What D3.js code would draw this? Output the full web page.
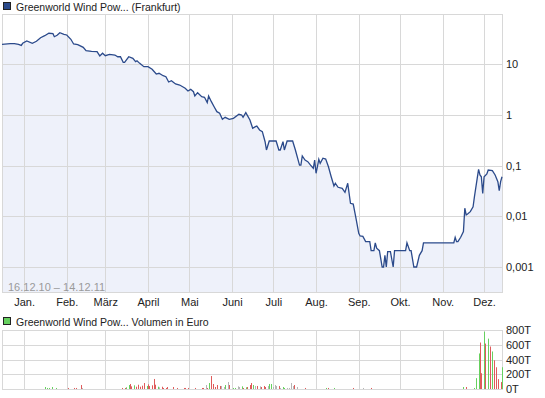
<!DOCTYPE html>
<html>
<head>
<meta charset="utf-8">
<script src="https://cdn.jsdelivr.net/npm/d3@7"></script>
<style>
  body { margin: 0; background: #fff; }
  text { font-family: "Liberation Sans", Arial, sans-serif; font-size: 11px; fill: #222; }
  text.legend { font-size: 10.5px; }
</style>
</head>
<body>
<svg id="chart"></svg>
<script>
// Kursverlauf (Euro, log)
const priceDates = [
  "2010-12-16","2010-12-22","2010-12-25","2010-12-28","2010-12-30","2010-12-31",
  "2011-01-03","2011-01-07","2011-01-10","2011-01-13","2011-01-16","2011-01-19","2011-01-22","2011-01-23","2011-01-25","2011-01-27","2011-01-30",
  "2011-02-01","2011-02-04","2011-02-06","2011-02-09","2011-02-13","2011-02-15","2011-02-19","2011-02-23","2011-02-25","2011-02-27",
  "2011-03-01","2011-03-04","2011-03-08","2011-03-10","2011-03-12","2011-03-14","2011-03-15","2011-03-18","2011-03-21","2011-03-23","2011-03-24","2011-03-26","2011-03-29",
  "2011-04-01","2011-04-04","2011-04-07","2011-04-09","2011-04-12","2011-04-14","2011-04-16","2011-04-18","2011-04-21","2011-04-24","2011-04-28","2011-04-30",
  "2011-05-02","2011-05-04","2011-05-05","2011-05-07","2011-05-10","2011-05-12","2011-05-14","2011-05-15","2011-05-17","2011-05-19","2011-05-21","2011-05-23","2011-05-25","2011-05-27","2011-05-30",
  "2011-06-02","2011-06-06","2011-06-08","2011-06-09","2011-06-11","2011-06-14","2011-06-16","2011-06-18","2011-06-19","2011-06-21","2011-06-23","2011-06-25","2011-06-26","2011-06-28",
  "2011-07-03","2011-07-05","2011-07-06","2011-07-08","2011-07-09","2011-07-11","2011-07-15","2011-07-17","2011-07-20","2011-07-21","2011-07-22","2011-07-24","2011-07-26","2011-07-28","2011-07-30","2011-07-31",
  "2011-08-01","2011-08-02","2011-08-03","2011-08-04","2011-08-06","2011-08-08","2011-08-10","2011-08-12","2011-08-14","2011-08-15","2011-08-17","2011-08-20","2011-08-22","2011-08-24","2011-08-26","2011-08-28","2011-08-30",
  "2011-09-01","2011-09-02","2011-09-04","2011-09-06","2011-09-09","2011-09-10","2011-09-12","2011-09-13","2011-09-14","2011-09-16","2011-09-18","2011-09-19","2011-09-20","2011-09-21","2011-09-22","2011-09-24","2011-09-26","2011-09-27",
  "2011-10-05","2011-10-06","2011-10-08","2011-10-09","2011-10-11","2011-10-13","2011-10-15","2011-10-17","2011-10-18",
  "2011-11-09","2011-11-10","2011-11-11","2011-11-12","2011-11-14","2011-11-16","2011-11-17","2011-11-18","2011-11-19","2011-11-21","2011-11-23","2011-11-24","2011-11-26","2011-11-27","2011-11-28","2011-11-29","2011-11-30",
  "2011-12-01","2011-12-03","2011-12-04","2011-12-07","2011-12-09","2011-12-11","2011-12-12","2011-12-13","2011-12-14"
];
const priceValues = [
  24.4,25.1,25.1,24.4,23.3,25.6,
  28.4,25.6,28.0,33.0,36.1,40.3,39.5,34.5,36.8,41.4,38.5,
  37.3,30.7,24.8,24.0,21.3,18.3,17.8,17.5,14.4,16.3,
  14.6,15.5,15.0,13.9,13.9,10.8,10.8,13.9,12.9,11.1,11.6,10.3,8.85,
  8.85,7.87,6.35,6.56,5.88,5.62,4.42,4.69,4.04,3.85,3.32,2.94,
  3.17,2.84,2.34,2.72,2.27,2.21,1.73,2.34,1.81,1.44,1.15,1.07,0.813,0.891,0.813,
  0.851,1.02,0.989,0.891,1.10,0.789,0.541,0.582,0.600,0.501,0.464,0.294,0.202,0.304,
  0.304,0.202,0.202,0.294,0.202,0.304,0.304,0.202,0.102,0.102,0.154,0.128,0.119,0.102,0.0881,0.128,
  0.0702,0.0946,0.132,0.110,0.139,0.134,0.0946,0.0601,0.0394,0.0446,0.0372,0.0356,0.0296,0.0446,0.0180,0.0174,0.00912,
  0.00461,0.00408,0.0040,0.00316,0.00316,0.0021,0.0021,0.0030,0.00234,0.0021,0.001,0.001,0.0017,0.001,0.0020,0.0020,0.001,0.0021,
  0.0021,0.0030,0.0021,0.0021,0.001,0.001,0.0017,0.0021,0.0030,
  0.0030,0.00385,0.00316,0.00316,0.00385,0.00497,0.0144,0.0106,0.0111,0.0123,0.0154,0.0243,0.056,0.0841,0.065,0.0601,0.0283,
  0.0601,0.0681,0.0815,0.0791,0.065,0.048,0.0318,0.048,0.0601
];

// Umsatz in Tausend Euro; g = Plus, r = Minus, n = unveraendert
const volDates = [
  "2011-01-16","2011-01-18","2011-01-19","2011-01-21","2011-01-24",
  "2011-02-02","2011-02-06","2011-02-08","2011-02-11","2011-02-12",
  "2011-03-13","2011-03-15","2011-03-16","2011-03-18","2011-03-19","2011-03-20","2011-03-22","2011-03-23","2011-03-25","2011-03-26","2011-03-28","2011-03-29","2011-03-31",
  "2011-04-01","2011-04-02","2011-04-04","2011-04-05","2011-04-06","2011-04-08","2011-04-09","2011-04-11","2011-04-12","2011-04-14","2011-04-15","2011-04-19","2011-04-22","2011-04-27","2011-04-28","2011-04-30",
  "2011-05-05","2011-05-10","2011-05-11","2011-05-13","2011-05-14","2011-05-15","2011-05-17","2011-05-18","2011-05-20","2011-05-21","2011-05-23","2011-05-24","2011-05-26","2011-05-27","2011-05-29","2011-05-30",
  "2011-06-02","2011-06-03","2011-06-05","2011-06-06","2011-06-08","2011-06-09","2011-06-11","2011-06-12","2011-06-14","2011-06-15","2011-06-16","2011-06-18","2011-06-19","2011-06-21","2011-06-22","2011-06-24","2011-06-25","2011-06-27","2011-06-28","2011-06-29",
  "2011-07-01","2011-07-02","2011-07-03","2011-07-05","2011-07-06","2011-07-08","2011-07-09","2011-07-11","2011-07-12","2011-07-14","2011-07-15","2011-07-16","2011-07-18","2011-07-24",
  "2011-08-08","2011-08-10","2011-08-14","2011-08-28","2011-09-04","2011-09-10",
  "2011-11-16","2011-11-18","2011-11-24","2011-11-25","2011-11-27","2011-11-28","2011-11-29",
  "2011-12-01","2011-12-02","2011-12-04","2011-12-05","2011-12-07","2011-12-08","2011-12-10","2011-12-11","2011-12-13","2011-12-14"
];
const volValues = [
  27,14,14,27,14,
  14,14,14,54,14,
  14,14,23,54,68,36,50,31,58,31,45,81,41,
  63,41,50,136,58,31,23,31,14,14,27,27,14,14,14,14,
  14,14,14,54,14,81,176,68,27,54,41,41,27,54,95,54,
  14,14,36,27,36,14,23,27,54,81,54,41,41,36,27,41,27,41,68,68,
  27,54,41,41,14,27,14,14,14,81,41,54,27,14,
  14,14,14,14,14,14,
  27,27,14,147,482,630,214,
  777,616,683,576,509,389,295,134,94,295
];
const volDir = [
  "g","g","g","g","g",
  "r","r","r","r","n",
  "r","r","g","g","r","r","g","r","r","r","r","r","g",
  "r","r","r","r","r","g","n","r","r","r","r","r","r","r","r","r",
  "r","r","r","n","r","g","r","r","r","r","r","n","n","g","n","r",
  "g","g","n","n","g","r","g","r","r","r","g","n","r","n","r","r","r","n","g","g",
  "n","n","n","r","n","g","g","n","n","n","n","r","n","r",
  "g","r","g","r","n","r",
  "g","r","g","g","g","r","r",
  "g","r","g","r","g","r","r","r","r","g"
];

const monthLabels = ["Jan.","Feb.","März","April","Mai","Juni","Juli","Aug.","Sep.","Okt.","Nov.","Dez."];
const priceTicks = [10, 1, 0.1, 0.01, 0.001];
const priceTickLabels = ["10", "1", "0,1", "0,01", "0,001"];
const volTicks = [0, 200, 400, 600, 800];

const colors = {
  line: "#2b4a8b",
  area: "#eef1fa",
  grid: "#d8d8d8",
  up: "#66d15f",
  down: "#df5b5b",
  flat: "#b5b5b5",
  period: "#9a9a9a"
};

const width = 545, height = 398;
const plot = { left: 2, right: 503, top: 14, bottom: 293 };
const vol = { top: 330, bottom: 389 };

const parse = d3.timeParse("%Y-%m-%d");
const prices = priceDates.map((d, i) => ({ date: parse(d), value: priceValues[i] }));
const volumes = volDates.map((d, i) => ({ date: parse(d), value: volValues[i], dir: volDir[i] }));

const svg = d3.select("#chart").attr("width", width).attr("height", height);

const x = d3.scaleTime()
  .domain([parse("2010-12-16"), parse("2011-12-14")])
  .range([2, 502]);
const y = d3.scaleLog().domain([0.001, 10]).range([267, 64]);
const yVol = d3.scaleLinear().domain([0, 800]).range([vol.bottom, vol.top]);

const months = d3.timeMonth.range(parse("2011-01-01"), parse("2011-12-14"));

// Legende oben
svg.append("rect").attr("x", 3.5).attr("y", 2.5).attr("width", 7).attr("height", 7)
  .attr("fill", colors.line).attr("stroke", "#222");
svg.append("text").attr("class", "legend").attr("x", 16).attr("y", 10.5)
  .text("Greenworld Wind Pow... (Frankfurt)");

// Kurs-Chart
svg.append("defs").append("clipPath").attr("id", "clipMain")
  .append("rect").attr("x", plot.left).attr("y", plot.top)
  .attr("width", plot.right - plot.left).attr("height", plot.bottom - plot.top);

const main = svg.append("g");
main.append("path").datum(prices)
  .attr("clip-path", "url(#clipMain)")
  .attr("fill", colors.area)
  .attr("d", d3.area().x(d => x(d.date)).y0(plot.bottom).y1(d => y(d.value)));

main.append("g").selectAll("line").data(months).enter().append("line")
  .attr("x1", d => Math.round(x(d)) + 0.5).attr("x2", d => Math.round(x(d)) + 0.5)
  .attr("y1", plot.top).attr("y2", plot.bottom)
  .attr("stroke", colors.grid);
main.append("g").selectAll("line").data(priceTicks).enter().append("line")
  .attr("x1", plot.left).attr("x2", plot.right)
  .attr("y1", d => Math.round(y(d)) + 0.5).attr("y2", d => Math.round(y(d)) + 0.5)
  .attr("stroke", colors.grid);
main.append("rect").attr("x", plot.left + 0.5).attr("y", plot.top + 0.5)
  .attr("width", plot.right - plot.left - 1).attr("height", plot.bottom - plot.top - 1)
  .attr("fill", "none").attr("stroke", colors.grid);

main.append("path").datum(prices)
  .attr("clip-path", "url(#clipMain)")
  .attr("fill", "none").attr("stroke", colors.line).attr("stroke-width", 1.3)
  .attr("d", d3.line().x(d => x(d.date)).y(d => y(d.value)));

main.append("text").attr("x", 8).attr("y", 291)
  .style("fill", colors.period).text("16.12.10 \u2013 14.12.11");

// Achsen
const yAxis = svg.append("g").attr("transform", `translate(${plot.right},0)`)
  .call(d3.axisRight(y).tickValues(priceTicks).tickSize(0).tickPadding(3)
    .tickFormat((d, i) => priceTickLabels[i]));
yAxis.select(".domain").remove();

const xAxis = svg.append("g").attr("transform", `translate(0,${plot.bottom})`)
  .call(d3.axisBottom(x).tickValues(months).tickSize(0).tickPadding(5)
    .tickFormat((d, i) => monthLabels[i]));
xAxis.select(".domain").remove();

svg.selectAll(".tick text").style("font-family", '"Liberation Sans", Arial, sans-serif')
  .style("font-size", "11px").attr("fill", "#222");

// Volumen
svg.append("rect").attr("x", 3.5).attr("y", 317.5).attr("width", 7).attr("height", 7)
  .attr("fill", colors.up).attr("stroke", "#222");
svg.append("text").attr("class", "legend").attr("x", 16).attr("y", 325.5)
  .text("Greenworld Wind Pow... Volumen in Euro");

const vg = svg.append("g");
vg.append("g").selectAll("line").data(months).enter().append("line")
  .attr("x1", d => Math.round(x(d)) + 0.5).attr("x2", d => Math.round(x(d)) + 0.5)
  .attr("y1", vol.top).attr("y2", vol.bottom)
  .attr("stroke", colors.grid);
vg.append("g").selectAll("line").data(volTicks).enter().append("line")
  .attr("x1", plot.left).attr("x2", plot.right)
  .attr("y1", d => Math.round(yVol(d)) + 0.5).attr("y2", d => Math.round(yVol(d)) + 0.5)
  .attr("stroke", colors.grid);
vg.append("line").attr("x1", plot.left + 0.5).attr("x2", plot.left + 0.5)
  .attr("y1", vol.top).attr("y2", vol.bottom).attr("stroke", colors.grid);
vg.append("line").attr("x1", plot.right - 0.5).attr("x2", plot.right - 0.5)
  .attr("y1", vol.top).attr("y2", vol.bottom).attr("stroke", colors.grid);

vg.append("g").selectAll("rect").data(volumes).enter().append("rect")
  .attr("x", d => Math.round(x(d.date)))
  .attr("width", 1)
  .attr("y", d => yVol(d.value))
  .attr("height", d => vol.bottom - yVol(d.value))
  .attr("fill", d => d.dir === "g" ? colors.up : d.dir === "r" ? colors.down : colors.flat);

const vAxis = svg.append("g").attr("transform", `translate(${plot.right},0)`)
  .call(d3.axisRight(yVol).tickValues(volTicks).tickSize(0).tickPadding(3)
    .tickFormat(d => d + "T"));
vAxis.select(".domain").remove();
vAxis.selectAll(".tick text").style("font-family", '"Liberation Sans", Arial, sans-serif')
  .style("font-size", "11px").attr("fill", "#222");
</script>
</body>
</html>
